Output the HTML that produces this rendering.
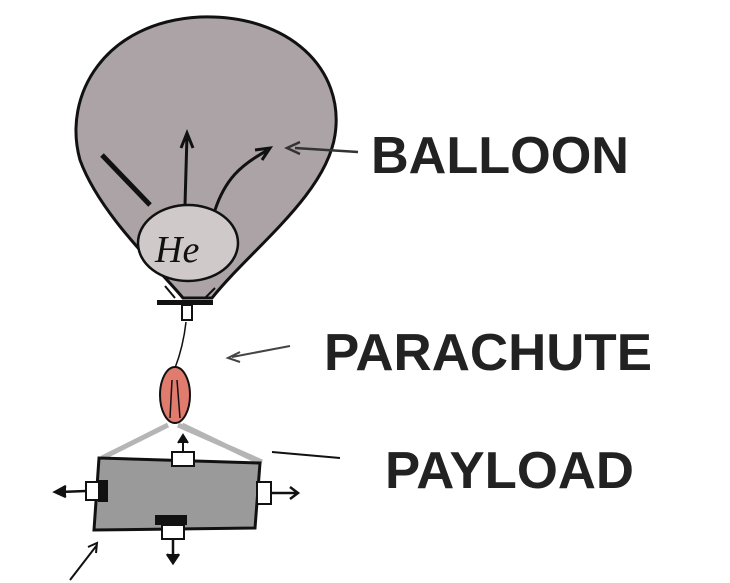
<!DOCTYPE html>
<html><head><style>
html,body{margin:0;padding:0;background:#fff;width:730px;height:583px;overflow:hidden}
svg{display:block}
text{font-family:"Liberation Sans",sans-serif;font-weight:bold;fill:#222}
</style></head><body>
<svg width="730" height="583" viewBox="0 0 730 583">
<!-- balloon -->
<path d="M183,298 C160,270 100,215 80,160 C62,95 105,22 200,17 C290,14 345,70 335,135 C326,195 250,250 212,298 Z" fill="#aba3a5" stroke="#111" stroke-width="3"/>
<path d="M175,298 L165,286 M205,298 L215,288" stroke="#111" stroke-width="2"/>
<ellipse cx="188" cy="243" rx="50" ry="38" fill="#cfc9ca" stroke="#111" stroke-width="2.5"/>
<text x="155" y="262" style="font-family:'Liberation Serif',serif;font-style:italic;font-weight:normal;font-size:38px;fill:#111">He</text>
<path d="M150,205 L102,155" stroke="#111" stroke-width="5"/>
<path d="M185,205 L187,135 M181,148 L187,133 L193,148" stroke="#111" stroke-width="3" fill="none"/>
<path d="M215,210 C225,180 240,165 268,150 M255,150 L270,148 L262,160" stroke="#111" stroke-width="3" fill="none"/>
<path d="M358,152 L295,148 M300,142 L287,148 L300,154" stroke="#333" stroke-width="2.5" fill="none"/>
<!-- neck -->
<rect x="157" y="300" width="56" height="5" fill="#111"/>
<rect x="182" y="305" width="10" height="15" fill="#fff" stroke="#111" stroke-width="2"/>
<path d="M186,322 C184,340 180,355 175,368" stroke="#111" stroke-width="1.5" fill="none"/>
<path d="M290,346 L232,357 M240,352 L228,358 L240,362" stroke="#444" stroke-width="2" fill="none"/>
<!-- parachute -->
<ellipse cx="175" cy="395" rx="15" ry="28" fill="#e07b6e" stroke="#111" stroke-width="2"/>
<path d="M172,380 L170,418 M177,380 L180,418" stroke="#111" stroke-width="1.5"/>
<!-- harness -->
<path d="M168,425 L102,458 M178,425 L262,462 M182,425 L255,460" stroke="#b5b5b5" stroke-width="5" fill="none"/>
<!-- payload -->
<path d="M99,458 L260,463 L255,528 L94,530 Z" fill="#9a9a9a" stroke="#111" stroke-width="3"/>
<rect x="172" y="452" width="22" height="14" fill="#fff" stroke="#111" stroke-width="2"/>
<path d="M183,452 L183,438 M178,443 L183,435 L188,443" stroke="#111" stroke-width="2" fill="#111"/>
<rect x="86" y="482" width="16" height="18" fill="#fff" stroke="#111" stroke-width="2"/>
<rect x="98" y="480" width="10" height="22" fill="#111"/>
<path d="M86,491 L60,492 M66,486 L55,492 L66,497" stroke="#111" stroke-width="2.5" fill="#111"/>
<rect x="257" y="482" width="14" height="22" fill="#fff" stroke="#111" stroke-width="2"/>
<path d="M271,493 L296,493 M290,487 L298,493 L290,499" stroke="#111" stroke-width="2.5" fill="none"/>
<rect x="155" y="515" width="32" height="10" fill="#111"/>
<rect x="162" y="525" width="22" height="14" fill="#fff" stroke="#111" stroke-width="2"/>
<path d="M173,539 L173,560 M167,554 L173,563 L179,554" stroke="#111" stroke-width="2.5" fill="#111"/>
<path d="M272,452 L340,458" stroke="#111" stroke-width="2"/>
<path d="M70,580 L97,545 M88,547 L97,543 L96,553" stroke="#111" stroke-width="2" fill="none"/>
<!-- labels -->
<text x="371" y="173" font-size="52" textLength="258" lengthAdjust="spacingAndGlyphs">BALLOON</text>
<text x="324" y="370" font-size="52" textLength="328" lengthAdjust="spacingAndGlyphs">PARACHUTE</text>
<text x="385" y="488" font-size="52" textLength="249" lengthAdjust="spacingAndGlyphs">PAYLOAD</text>
</svg>
</body></html>
